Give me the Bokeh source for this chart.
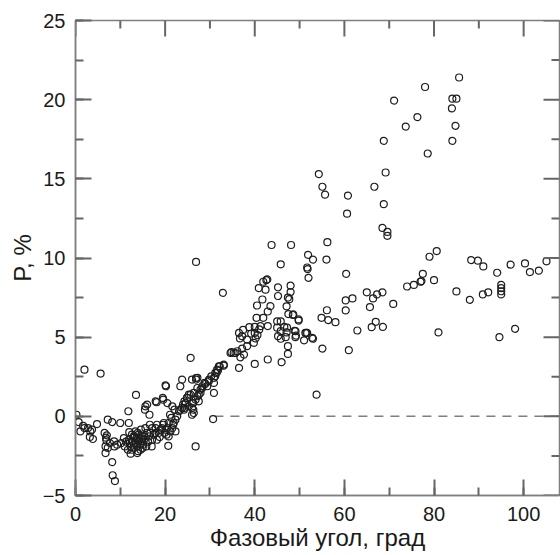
from bokeh.plotting import figure
from bokeh.models import SingleIntervalTicker, Range1d
from bokeh.embed import file_html
from bokeh.resources import INLINE

# Phase angle (deg) and polarization P (%)
phase = [
    0.2, 0.7, 1.1, 1.7, 2.0, 2.8, 3.3, 3.2, 3.9, 3.7, 4.8, 2.0, 5.6, 7.2, 8.2, 10.0,
    6.5, 6.9, 6.7, 6.7, 7.2, 7.7, 8.6, 8.7, 9.3, 8.2, 8.3, 8.8, 7.0, 6.8,
    10.2, 10.8, 11.7, 12.1, 12.3, 13.0, 13.8, 12.6, 13.4, 13.6, 14.1, 14.5, 14.9, 15.3,
    16.0, 15.8, 16.6, 17.1, 17.9, 18.2, 19.0, 19.6, 19.9, 11.8, 13.5, 11.9, 12.6, 13.0,
    13.8, 13.4, 14.1, 14.3, 14.9, 15.1, 15.4, 13.8, 12.6, 14.5, 13.0, 12.3, 13.9, 14.6,
    15.6, 16.4, 16.7, 17.1, 17.5, 17.9, 18.2, 18.6, 18.8, 19.3, 19.7, 15.6, 16.0, 15.5,
    16.5, 17.9, 18.1, 11.9, 11.0, 12.0, 14.0, 15.0, 16.2, 17.0, 13.2, 14.7, 11.3,
    20.5, 20.8, 21.2, 21.9, 21.4, 22.3, 22.7, 22.1, 21.6, 20.5, 19.6, 23.1, 23.8, 24.2,
    24.6, 24.9, 25.3, 26.0, 26.4, 26.3, 27.2, 27.5, 27.9, 28.3, 28.8, 29.4, 29.8, 30.3,
    30.9, 30.9, 31.2, 31.6, 32.0, 33.1, 27.2, 20.1, 20.2, 19.5, 23.4, 23.8, 25.7, 26.0,
    26.8, 20.7, 30.7, 26.9, 32.9, 20.1, 20.3, 20.8, 21.6, 21.8, 21.1, 22.3, 24.3, 24.0,
    23.4, 24.3, 25.3, 26.0, 26.8, 27.5, 26.0, 26.3, 24.9, 25.7, 26.4, 27.2, 27.9, 28.3,
    29.0, 29.8, 26.9, 26.9, 30.9, 31.2, 31.5, 31.8, 32.2, 33.1,
    34.8, 35.7, 36.1, 37.2, 38.3, 39.8, 40.2, 40.6, 40.0, 39.2, 38.3, 36.7, 37.2, 36.5,
    37.4, 36.8, 36.5, 40.0, 42.9, 46.0, 47.4, 47.4, 40.5, 43.5, 42.9, 40.4, 41.9, 42.9,
    41.3, 40.0, 38.8, 41.0, 45.0, 45.8, 46.6, 45.0, 45.8, 45.2, 45.8, 46.9, 49.1, 49.1,
    51.0, 51.7, 40.9, 41.9, 42.6, 45.2, 45.2, 48.0, 48.0, 47.4, 47.7, 47.1, 47.5, 48.6,
    49.8, 43.75, 48.1, 45.8, 48.5, 47.2, 47.1, 48.9, 49.2, 51.5, 53.0, 37.6, 34.6, 35.3,
    41.7, 42.4, 42.8, 49.8, 51.3, 52.8,
    51.9, 51.7, 51.8, 52.0, 53.0, 56.0, 56.2, 54.3, 55.1, 55.7, 60.8, 60.6, 60.4, 54.9,
    56.4, 58.0, 56.1, 60.3, 61.8, 60.3, 62.9, 55.1, 61.0, 53.8, 65.0, 66.4, 65.7, 67.3,
    68.5, 70.9, 67.0, 66.1, 68.6, 66.7, 69.2, 68.8, 68.8, 68.5, 69.6, 69.6, 71.1,
    73.7, 76.3, 78.0, 85.6, 84.1, 85.0, 84.0, 84.8, 84.1, 78.6, 74.0, 75.5, 77.0, 77.5,
    79.0, 80.6, 77.2, 80.0, 85.0, 88.0, 88.3, 89.8, 91.0, 90.9, 92.1, 94.1, 95.0, 95.0,
    95.0, 95.0, 97.1, 100.3, 101.4, 103.4, 105.1, 81.0, 94.6, 98.1,
]
polarization = [
    0.1, -0.36, -0.95, -0.6, -0.74, -0.74, -0.95, -1.3, -1.43, -0.84, -0.49, 2.95, 2.7, -0.21, -0.36, -0.42,
    -1.05, -1.52, -1.9, -2.32, -2.0, -1.69, -1.58, -1.9, -1.79, -2.89, -3.72, -4.09, -1.2, -1.35,
    -1.69, -1.37, -2.11, -1.69, -2.36, -2.0, -2.32, -1.16, -0.95, -1.37, -1.58, -1.79, -1.22, -1.48,
    -1.05, -1.9, -0.53, -0.74, -1.05, -1.48, -0.84, -0.53, -1.05, 0.32, 1.35, -1.48, -1.58, -1.27,
    -1.48, -1.69, -1.16, -1.37, -1.58, -1.79, -1.27, -1.9, -2.11, -2.11, -1.79, -1.9, -1.05, -0.84,
    -0.74, -1.27, -1.05, -1.48, -1.16, -0.74, -0.53, -1.05, -1.31, -0.74, -0.42, 0.63, 0.74, 0.42,
    0.1, 0.95, 0.89, -0.42, -1.9, -1.0, -2.2, -2.0, -1.6, -1.9, -1.3, -1.4, -1.6,
    -0.74, -0.42, -0.95, -0.42, -0.1, -0.95, 0.0, 0.42, 0.63, 0.84, 1.05, 0.32, 0.53, 0.42,
    0.84, 1.16, 1.37, 0.53, 0.21, 0.84, 1.27, 0.95, 1.48, 1.79, 2.11, 1.9, 2.32, 2.53,
    2.43, 1.48, 2.74, 2.95, 3.16, 3.2, 2.43, 1.96, 1.9, 1.16, 1.9, 2.32, 3.69, 2.32,
    -1.9, -1.86, -0.17, 9.75, 7.8, -0.84, -1.16, -1.27, -0.74, -0.53, 0.1, -0.21, 0.95, 0.74,
    0.42, 0.53, 0.63, 0.84, 1.06, 1.37, 0.1, 0.42, 1.16, 1.37, 1.48, 1.79, 1.69, 1.9,
    2.05, 2.22, 2.42, 2.32, 2.11, 2.53, 2.74, 2.89, 3.16, 3.27,
    4.05, 4.0, 4.11, 4.28, 4.43, 4.64, 4.92, 5.13, 5.27, 5.23, 4.85, 4.92, 5.06, 5.27,
    5.46, 3.73, 3.06, 3.31, 3.59, 3.42, 3.94, 4.43, 7.0, 6.96, 6.62, 6.22, 6.22, 5.7,
    5.7, 5.65, 5.63, 5.49, 6.0, 6.0, 5.65, 5.6, 5.38, 5.06, 4.9, 5.0, 5.38, 5.0,
    4.8, 5.27, 8.1, 8.5, 8.6, 8.15, 7.6, 8.25, 7.85, 7.5, 7.4, 6.95, 6.46, 6.44,
    6.05, 10.82, 10.82, 9.6, 6.4, 5.6, 5.3, 5.4, 5.1, 5.27, 4.9, 3.9, 4.0, 4.0,
    7.38, 8.0, 8.65, 6.12, 5.27, 4.96,
    10.2, 9.4, 9.3, 8.75, 9.9, 9.9, 11.0, 15.3, 14.5, 14.0, 13.94, 12.8, 9.0, 6.22,
    6.08, 5.95, 6.7, 7.32, 7.45, 6.69, 5.42, 4.28, 4.18, 1.37, 7.83, 7.45, 6.9, 7.7,
    7.83, 7.1, 5.97, 5.63, 5.65, 14.5, 15.4, 13.4, 17.4, 11.9, 11.65, 11.4, 19.94,
    18.3, 18.9, 20.8, 21.4, 20.06, 20.06, 19.45, 18.35, 17.4, 16.6, 8.2, 8.3, 8.5, 9.0,
    10.08, 10.44, 8.54, 8.6, 7.89, 7.36, 9.87, 9.83, 9.47, 7.7, 7.83, 9.07, 8.3, 8.1,
    7.9, 7.7, 9.58, 9.66, 9.11, 9.2, 9.79, 5.3, 5.0, 5.53,
]

# zero-polarization reference line
ref_phase = [31, 110]
ref_p = [0, 0]

# axis limits and tick values
x_lim = [0, 108]
y_lim = [-5, 25]
x_major = [0, 20, 40, 60, 80, 100]
x_minor = [10, 30, 50, 70, 90]
y_major = [-5, 0, 5, 10, 15, 20, 25]
y_minor = [-2.5, 2.5, 7.5, 12.5, 17.5, 22.5]

x_label = "Фазовый угол, град"
y_label = "P, %"

FONT = "Liberation Sans"
AX = "#7f7f7f"
TK = "#666666"
W, H = 560, 555
BL, BR, BT, BB = 75, 1, 20, 60
MAJ, MIN = 16, 8  # tick lengths in px

p = figure(width=W, height=H, output_backend="svg", toolbar_location=None,
           x_range=Range1d(*x_lim), y_range=Range1d(*y_lim),
           min_border_left=BL, min_border_right=BR, min_border_top=BT, min_border_bottom=BB,
           x_axis_label=x_label, y_axis_label=y_label)
p.xgrid.visible = False
p.ygrid.visible = False
p.outline_line_color = AX
p.outline_line_width = 1.5

p.xaxis.ticker = SingleIntervalTicker(interval=20, num_minor_ticks=2)
p.yaxis.ticker = SingleIntervalTicker(interval=5, num_minor_ticks=2)
for axes in (p.xaxis, p.yaxis):
    axes.axis_line_color = AX
    axes.axis_line_width = 1.5
    axes.major_tick_in = MAJ
    axes.major_tick_out = 0
    axes.minor_tick_in = MIN
    axes.minor_tick_out = 0
    axes.major_tick_line_color = TK
    axes.minor_tick_line_color = TK
    axes.major_tick_line_width = 2
    axes.minor_tick_line_width = 2
    axes.major_label_text_font = FONT
    axes.major_label_text_font_size = "20px"
    axes.major_label_text_color = "#1a1a1a"
    axes.axis_label_text_font = FONT
    axes.axis_label_text_font_size = "24px"
    axes.axis_label_text_font_style = "normal"
    axes.axis_label_text_color = "#1a1a1a"
p.xaxis.major_label_standoff = 11
p.xaxis.axis_label_standoff = 0
p.yaxis.major_label_standoff = 10
p.yaxis.axis_label_standoff = 4

p.line(ref_phase, ref_p, line_color=AX, line_width=1.5, line_dash="9 7")
p.scatter(phase, polarization, marker="circle", size=7, fill_color=None,
          line_color="#1e1e1e", line_width=1.2)

# mirrored inward tick marks on the top and right frame edges
dx = (x_lim[1] - x_lim[0]) / (W - BL - BR)
dy = (y_lim[1] - y_lim[0]) / (H - BT - BB)
for vals, ln in ((x_major, MAJ), (x_minor, MIN)):
    n = len(vals)
    p.segment(x0=vals, y0=[y_lim[1]] * n, x1=vals, y1=[y_lim[1] - ln * dy] * n,
              line_color=TK, line_width=2)
for vals, ln in ((y_major, MAJ), (y_minor, MIN)):
    n = len(vals)
    p.segment(x0=[x_lim[1]] * n, y0=vals, x1=[x_lim[1] - ln * dx] * n, y1=vals,
              line_color=TK, line_width=2)

open("out.html", "w").write(file_html(p, INLINE))
